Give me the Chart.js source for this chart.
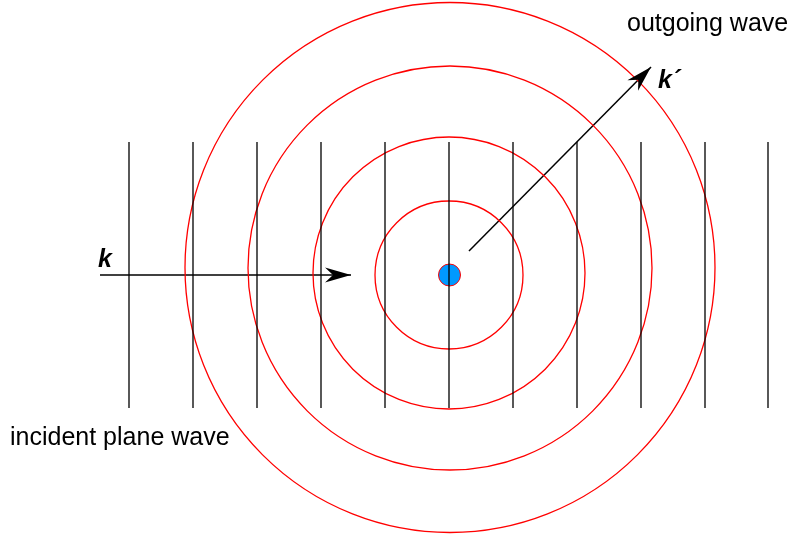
<!DOCTYPE html>
<html>
<head>
<meta charset="utf-8">
<script src="https://cdn.jsdelivr.net/npm/chart.js@4/dist/chart.umd.min.js"></script>
<style>
  html, body { margin: 0; padding: 0; background: #fff; }
  #scene { display: block; }
</style>
</head>
<body>
<canvas id="scene" width="794" height="536"></canvas>
<script>
// picture units: x to the right, y downward (axis reversed)
const planeWaveX = [129, 193, 257, 321, 385, 449, 513, 577, 641, 705, 768];
const planeWaveSpan = [142, 408];

// outgoing spherical wavefronts: centre and radius
const circleCx = [449, 449, 450, 450];
const circleCy = [275, 273, 268, 267.5];
const circleR = [74, 136, 202, 265];

const scatterer = { x: 449.5, y: 275, r: 11 };

const arrowK = [{ x: 100, y: 275 }, { x: 351, y: 275 }];
const arrowKPrime = [{ x: 469, y: 251 }, { x: 651, y: 67 }];

const labels = [
    { text: 'k', x: 98, y: 267, font: 'italic bold 25px "Liberation Sans", Arial, sans-serif' },
    { text: 'k\u00b4', x: 658, y: 88, font: 'italic bold 25px "Liberation Sans", Arial, sans-serif' },
    { text: 'incident plane wave', x: 10, y: 445, font: '25px "Liberation Sans", Arial, sans-serif' },
    { text: 'outgoing wave', x: 627, y: 31, font: '25px "Liberation Sans", Arial, sans-serif' }
];

function radiusPx(ctx) {
    const sx = ctx.chart.scales.x;
    return sx.getPixelForValue(ctx.raw.r) - sx.getPixelForValue(0);
}

let datasets = [];

planeWaveX.forEach(x => {
    datasets.push({
        type: 'line',
        data: [{ x, y: planeWaveSpan[0] }, { x, y: planeWaveSpan[1] }],
        borderColor: '#000',
        borderWidth: 1.3,
        pointRadius: 0,
        fill: false
    });
});

circleR.forEach((r, i) => {
    datasets.push({
        type: 'scatter',
        data: [{ x: circleCx[i], y: circleCy[i], r }],
        pointRadius: radiusPx,
        pointBackgroundColor: 'rgba(0,0,0,0)',
        pointBorderColor: '#ff0000',
        pointBorderWidth: 1.3
    });
});

[arrowK, arrowKPrime].forEach(pts => {
    datasets.push({
        type: 'line',
        data: pts,
        borderColor: '#000',
        borderWidth: 1.5,
        pointRadius: 0,
        fill: false,
        isArrow: true
    });
});

datasets.push({
    type: 'scatter',
    data: [scatterer],
    pointRadius: radiusPx,
    pointBackgroundColor: '#0099ff',
    pointBorderColor: '#ff0000',
    pointBorderWidth: 1
});

const arrowHeads = {
    id: 'arrowHeads',
    afterDatasetsDraw(chart) {
        const ctx = chart.ctx;
        chart.data.datasets.forEach((ds, i) => {
            if (!ds.isArrow) return;
            const pts = chart.getDatasetMeta(i).data;
            const a = pts[pts.length - 2], b = pts[pts.length - 1];
            let dx = b.x - a.x, dy = b.y - a.y;
            const len = Math.hypot(dx, dy);
            dx /= len; dy /= len;
            const L = 26, W = 7.5, N = 8;
            ctx.save();
            ctx.fillStyle = '#000';
            ctx.beginPath();
            ctx.moveTo(b.x, b.y);
            ctx.lineTo(b.x - L * dx - W * dy, b.y - L * dy + W * dx);
            ctx.lineTo(b.x - (L - N) * dx, b.y - (L - N) * dy);
            ctx.lineTo(b.x - L * dx + W * dy, b.y - L * dy - W * dx);
            ctx.closePath();
            ctx.fill();
            ctx.restore();
        });
    }
};

const textLabels = {
    id: 'textLabels',
    afterDraw(chart) {
        const ctx = chart.ctx;
        const sx = chart.scales.x, sy = chart.scales.y;
        ctx.save();
        ctx.fillStyle = '#000';
        ctx.textBaseline = 'alphabetic';
        labels.forEach(l => {
            ctx.font = l.font;
            ctx.fillText(l.text, sx.getPixelForValue(l.x), sy.getPixelForValue(l.y));
        });
        ctx.restore();
    }
};

new Chart(document.getElementById('scene').getContext('2d'), {
    type: 'scatter',
    data: { datasets },
    options: {
        responsive: false,
        animation: false,
        events: [],
        layout: { padding: 0 },
        scales: {
            x: { type: 'linear', min: 0, max: 794, display: false },
            y: { type: 'linear', min: 0, max: 536, reverse: true, display: false }
        },
        plugins: {
            legend: { display: false },
            tooltip: { enabled: false }
        }
    },
    plugins: [arrowHeads, textLabels]
});
</script>
</body>
</html>
